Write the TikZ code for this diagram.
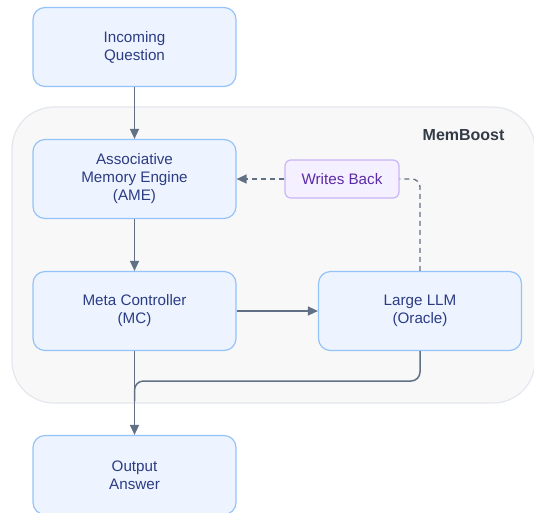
\documentclass[tikz,border=0pt]{standalone}
\usepackage{fontspec}
\setmainfont{Liberation Sans}
\usetikzlibrary{arrows.meta,positioning}
\definecolor{boxfill}{HTML}{EDF4FF}
\definecolor{boxdraw}{HTML}{93C3F8}
\definecolor{boxtext}{HTML}{2C3C84}
\definecolor{wbfill}{HTML}{F5F0FF}
\definecolor{wbdraw}{HTML}{C9B5F7}
\definecolor{wbtext}{HTML}{5B2AA8}
\definecolor{grpfill}{HTML}{F8F8F8}
\definecolor{grpdraw}{HTML}{E3E7EE}
\definecolor{edgecol}{HTML}{627086}
\definecolor{grptext}{HTML}{333B47}
\tikzset{
  procbox/.style={draw=boxdraw, fill=boxfill, line width=1.2pt, rounded corners=12pt,
    minimum width=203pt, minimum height=79pt, align=center, text=boxtext,
    font=\fontsize{15.2pt}{18pt}\selectfont, inner sep=0pt},
  wbbox/.style={draw=wbdraw, fill=wbfill, line width=1.2pt, rounded corners=6pt,
    minimum width=114pt, minimum height=38pt, align=center, text=wbtext,
    font=\fontsize{15.2pt}{18pt}\selectfont, inner sep=0pt},
  conn/.style={draw=edgecol, line width=1.5pt, -{Triangle[length=10pt,width=9pt]}},
  dconn/.style={draw=edgecol, line width=1.3pt, dash pattern=on 5pt off 4pt},
}
\begin{document}
\begin{tikzpicture}[x=1pt,y=-1pt]
\useasboundingbox (0,0) rectangle (534,512);
\begin{scope}
\clip (0,0) rectangle (534,512);
\draw[fill=grpfill, draw=grpdraw, line width=1.2pt, rounded corners=42pt] (12,107) rectangle (535,403);
\node[anchor=east, font=\fontsize{16pt}{18pt}\selectfont\bfseries, text=grptext] (grp) at (508,135) {MemBoost};
\node[procbox] (inq) at (134.5,47) {Incoming\\Question};
\node[procbox] (ame) at (134.5,179) {Associative\\Memory Engine\\(AME)};
\node[procbox] (mc) at (134.5,311) {Meta Controller\\(MC)};
\node[procbox] (llm) at (420,311) {Large LLM\\(Oracle)};
\node[procbox] (out) at (134.5,475) {Output\\Answer};
\node[wbbox] (wb) at (342,179) {Writes Back};
\coordinate (join) at (134.5,381);
\draw[conn] (inq) -- (ame);
\draw[conn] (ame) -- (mc);
\draw[conn] (mc) -- (llm);
\draw[conn] (mc) -- (out);
\draw[draw=edgecol, line width=1.5pt, rounded corners=9pt] (llm.south) |- (join) -- ([yshift=-20pt]join);
\draw[dconn, -{Triangle[length=10pt,width=9pt]}] (wb) -- (ame);
\draw[dconn, rounded corners=8pt] (llm.north) |- (wb.east);
\end{scope}
\end{tikzpicture}
\end{document}
